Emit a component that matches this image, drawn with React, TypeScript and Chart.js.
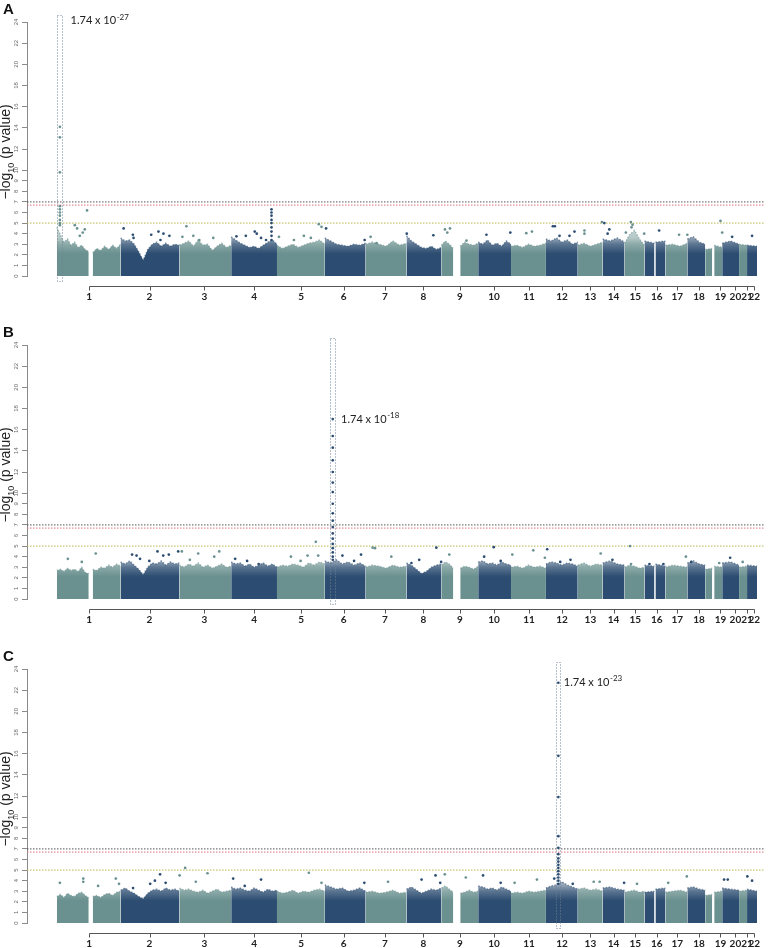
import React, { useEffect, useRef } from 'react';
import { Chart, registerables } from 'chart.js';

Chart.register(...registerables);

// ---------- shared data ----------
const chromLabels = ['1', '2', '3', '4', '5', '6', '7', '8', '9', '10', '11', '12', '13', '14', '15', '16', '17', '18', '19', '20', '21', '22'];
const chromLabelPos = [62.3, 123, 178, 228, 275.3, 318, 359.3, 398, 434.7, 469, 504, 537.3, 565.7, 589, 610.7, 632.3, 653, 674.7, 696.3, 711.3, 723, 730.3];

// SNP blocks along the genome axis (start, end, shade 0 = teal, 1 = dark blue)
const blockStart = [30, 66, 94, 153, 205, 251, 299, 340, 381, 416, 435, 453, 486, 521, 553, 578, 600, 620, 631, 641, 663, 681, 690, 698, 715, 723];
const blockEnd = [62, 94, 153, 205, 251, 299, 340, 381, 416, 428, 453, 486, 521, 553, 578, 600, 620, 630, 641, 663, 681, 688, 698, 715, 723, 733];
const blockShade = [0, 0, 1, 0, 1, 0, 1, 0, 1, 0, 0, 1, 0, 1, 0, 1, 0, 1, 1, 0, 1, 0, 0, 1, 0, 1];

const yTickValues = [0, 1, 2, 3, 4, 5, 6, 7, 8, 9, 10, 12, 14, 16, 18, 20, 22, 24];
const thresholdValues = [7, 6.7, 5];
const X_MIN = 0;
const X_MAX = 741;

// ---------- panel A ----------
const profileA: number[][] = [
  [4.6, 3.9, 3.2, 3.5, 2.9, 3.2, 2.7, 2.9, 2.5, 2.3],
  [2.2, 2.6, 2.4, 2.8, 2.5, 2.9, 2.6, 3.0],
  [3.6, 3.3, 3.4, 3.0, 2.3, 1.5, 2.5, 3.0, 3.2, 2.8, 3.1, 2.8, 3.0, 2.9],
  [2.9, 3.1, 3.3, 2.8, 3.4, 2.9, 3.0, 2.4, 2.8, 3.1, 2.7, 2.9],
  [3.7, 3.4, 3.1, 2.9, 2.7, 2.8, 2.6, 2.9, 3.2, 3.4, 3.0],
  [2.9, 2.6, 2.8, 3.0, 2.7, 2.9, 3.1, 3.2, 3.4, 3.0],
  [3.6, 3.3, 3.0, 2.9, 2.8, 3.0, 2.9, 3.1],
  [3.0, 3.2, 3.0, 2.8, 3.3, 2.9, 3.1],
  [3.8, 3.3, 3.0, 2.7, 2.6, 2.8, 2.5, 2.7],
  [2.9, 3.3, 3.0, 2.6],
  [2.8, 3.2, 3.0, 2.9, 3.1],
  [3.2, 3.0, 3.4, 2.9, 3.1, 2.8, 3.3, 3.0],
  [2.8, 2.9, 2.7, 3.0, 2.8, 2.9, 3.1],
  [3.5, 3.3, 3.6, 3.2, 3.4, 3.0, 3.2],
  [2.9, 3.1, 2.8, 3.0, 3.2],
  [3.5, 3.3, 3.6, 3.2],
  [3.1, 3.9, 4.3, 3.5, 2.9],
  [3.3, 3.1],
  [3.2, 3.3],
  [2.9, 3.0, 2.8, 3.1],
  [3.5, 3.7, 3.2, 3.0],
  [2.5, 2.6],
  [2.9, 2.7],
  [3.1, 3.3, 3.0],
  [3.0, 2.9],
  [2.9, 2.8],
];
const outliersA: [number, number][] = [
  [48, 4.8], [50.3, 4.5], [58, 4.4], [60.3, 6.2], [56, 4.1], [53, 3.8],
  [97, 4.5], [106.3, 3.9], [107, 3.6], [124.7, 3.9], [132, 4.2], [134, 3.4], [137, 4.0], [143, 3.8],
  [160, 4.7], [156, 3.7], [167, 3.8], [173, 3.4], [187, 3.6],
  [245.5, 6.3], [245.5, 6.0], [245.5, 5.7], [245.5, 5.3], [245.5, 5.0], [245.5, 4.6], [245.5, 4.2], [245.5, 3.8], [245.5, 3.4],
  [228.7, 4.2], [230.7, 4.0], [219.7, 3.8], [210.3, 3.75], [235, 3.6], [240, 3.4], [253, 3.7],
  [293, 4.9], [295.7, 4.65], [300.3, 4.5], [285, 3.6], [268, 3.4], [278, 3.8],
  [339, 3.4], [345, 3.7], [351, 3.1],
  [381.3, 4.0], [408, 3.85], [419.7, 4.4], [424.7, 4.5], [422, 4.1],
  [441.3, 3.35], [461.3, 3.9], [485.3, 4.1], [501.3, 4.05], [507, 4.2],
  [528, 4.7], [530, 4.7], [534.7, 3.8], [544.7, 3.8], [549.7, 4.2], [559.7, 4.3], [559.7, 4.0],
  [577.3, 5.1], [579.7, 5.0], [583, 4.0], [584.7, 4.4],
  [601.3, 4.1], [606.3, 5.1], [608, 4.85], [607, 4.6],
  [619.7, 4.0], [634.7, 4.3], [654.7, 3.9], [663, 3.9], [696.3, 5.2], [698, 4.1], [728, 3.8], [708, 3.7],
];
const peakXA = 33;
const peakYA = [24.5, 14.1, 13.1, 9.8, 6.6, 6.3, 6.0, 5.7, 5.3, 5.0, 4.8];

// ---------- panel B ----------
const profileB: number[][] = [
  [2.7, 2.8, 2.6, 2.9, 2.7, 2.8, 2.6, 3.0, 2.5, 2.4],
  [2.8, 2.7, 3.0, 2.9, 3.2, 3.0, 3.3, 3.1],
  [3.5, 3.3, 3.6, 3.2, 2.8, 2.3, 3.0, 3.4, 3.3, 3.6, 3.2, 3.5, 3.3, 3.4],
  [3.2, 3.0, 3.3, 3.1, 3.4, 3.0, 3.2, 2.9, 3.1, 3.3, 3.0, 3.1],
  [3.5, 3.3, 3.4, 3.1, 3.3, 3.0, 3.2, 3.4, 3.1, 3.3, 3.0],
  [3.0, 3.2, 3.1, 3.3, 3.2, 3.0, 3.4, 3.2, 3.5, 3.3],
  [3.6, 3.4, 3.7, 3.3, 3.5, 3.2, 3.4, 3.1],
  [3.0, 3.2, 3.1, 2.9, 3.2, 3.0, 3.1],
  [3.4, 3.2, 2.8, 2.4, 2.6, 3.0, 3.2, 3.3],
  [3.2, 3.5, 3.3, 2.9],
  [2.9, 3.1, 3.0, 2.8, 3.1],
  [3.5, 3.6, 3.3, 3.4, 3.2, 3.5, 3.3, 3.2],
  [3.0, 3.1, 2.9, 3.2, 3.0, 3.1, 2.9],
  [3.3, 3.5, 3.4, 3.2, 3.4, 3.3, 3.1],
  [3.2, 3.4, 3.1, 3.3, 3.2],
  [3.4, 3.6, 3.3, 3.2],
  [3.0, 3.2, 3.1, 2.9, 3.0],
  [3.2, 3.1],
  [3.3, 3.1],
  [3.0, 3.2, 3.1, 3.0],
  [3.4, 3.6, 3.3, 3.2],
  [2.8, 2.9],
  [3.1, 3.0],
  [3.4, 3.5, 3.2],
  [3.0, 3.1],
  [3.2, 3.1],
];
const outliersB: [number, number][] = [
  [41, 3.8], [69, 4.3], [55, 3.5],
  [105.5, 4.2], [110, 4.1], [131, 4.5], [136.8, 4.1], [142.4, 4.2], [151.8, 4.5], [155.5, 4.5], [122.8, 3.6], [113.5, 3.8],
  [171.9, 4.3], [193, 4.5], [188, 4.0], [163.5, 3.7],
  [209, 3.8], [221, 3.6], [232.6, 3.3],
  [265, 4.0], [281.7, 4.1], [290, 5.4], [292.4, 4.1], [274.7, 3.6],
  [316.7, 4.1], [335.4, 4.2], [347, 4.85], [349.4, 4.8], [365.8, 4.0], [328.4, 3.6],
  [386, 3.4], [393.8, 3.7], [411, 4.85], [424, 4.2], [415.8, 3.5],
  [459, 4.0], [468.6, 4.9], [475.6, 3.6], [487.3, 4.2],
  [508.3, 4.6], [522.3, 4.7], [520, 3.9], [535.4, 3.5], [545.7, 3.7],
  [576, 4.3], [587.8, 3.7], [605.5, 5.0], [606.5, 3.3],
  [625, 3.3], [639, 3.3], [661.6, 4.0], [667, 3.5], [695, 3.4], [706, 3.9], [718.6, 3.5],
];
const peakXB = 307;
const peakYB = [17.0, 15.4, 14.3, 13.1, 12.0, 11.0, 10.1, 9.0, 8.1, 7.4, 6.8, 6.2, 5.7, 5.2, 4.8, 4.4, 4.0, 3.7];

// ---------- panel C ----------
const profileC: number[][] = [
  [2.5, 2.7, 2.4, 2.8, 2.6, 2.5, 2.8, 2.9, 2.6, 2.4],
  [2.5, 2.6, 2.4, 2.7, 2.8, 2.6, 2.9, 3.0],
  [3.1, 3.3, 3.0, 2.8, 2.5, 2.3, 2.8, 3.1, 3.2, 3.0, 3.3, 3.1, 3.2, 3.0],
  [3.3, 3.1, 3.2, 3.0, 2.9, 3.1, 2.8, 3.0, 3.2, 2.9, 3.0, 3.1],
  [3.4, 3.2, 3.3, 3.1, 3.0, 3.3, 3.1, 2.9, 3.2, 3.0, 3.1],
  [3.0, 2.8, 2.9, 3.1, 2.8, 3.0, 2.9, 3.1, 3.2, 3.0],
  [3.6, 3.4, 3.2, 3.3, 3.0, 3.1, 3.3, 3.0],
  [2.9, 3.0, 2.8, 2.9, 3.1, 2.8, 2.9],
  [3.2, 3.4, 3.1, 2.8, 3.0, 3.2, 3.1, 3.3],
  [3.3, 3.5, 3.2, 2.9],
  [2.8, 2.9, 3.1, 2.9, 3.0],
  [3.5, 3.4, 3.2, 3.3, 3.1, 3.4, 3.2, 3.0],
  [2.8, 2.9, 2.8, 3.0, 2.9, 3.0, 3.1],
  [3.3, 3.5, 3.6, 3.9, 3.6, 3.4, 3.2],
  [3.2, 3.3, 3.1, 3.2, 3.0],
  [3.3, 3.4, 3.2, 3.1],
  [2.9, 3.0, 3.1, 2.9, 3.0],
  [2.9, 3.0],
  [3.2, 3.3],
  [2.9, 3.0, 3.1, 2.9],
  [3.3, 3.4, 3.2, 3.1],
  [2.6, 2.7],
  [2.9, 3.0],
  [3.3, 3.2, 3.1],
  [3.0, 3.1],
  [3.2, 3.0],
];
const outliersC: [number, number][] = [
  [33, 3.8], [56.5, 4.2], [56.5, 3.9],
  [71.4, 3.5], [89.2, 4.2], [92.4, 3.7],
  [133.6, 4.6], [128.4, 4.0], [139.2, 3.8], [153.2, 4.5], [158.8, 5.2], [106.5, 3.3], [123.7, 3.7],
  [169.5, 3.9], [181.2, 4.7], [207, 4.2], [235, 4.1], [218.6, 3.5],
  [283, 4.75], [295.7, 3.8], [338.7, 3.8], [362.5, 3.9], [396.2, 4.1], [410.2, 4.5], [419.5, 4.6], [414.9, 3.8],
  [440.6, 4.3], [457.9, 4.5], [475.6, 3.8], [489.6, 3.8], [512, 4.1],
  [529.4, 4.2], [548, 3.7], [569, 3.9], [575, 3.9], [599.5, 3.8], [612.5, 3.7], [643.8, 3.8], [662.5, 4.4],
  [699.9, 4.1], [723.3, 4.4], [728, 4.0], [703.6, 4.1],
];
const peakXC = 533.5;
const peakYC = [22.7, 15.8, 11.9, 8.2, 7.1, 6.5, 6.1, 5.8, 5.5, 5.2, 4.9, 4.6, 4.3, 4.0, 3.7];

// ---------- styling ----------
const SHADE_RGB = [[106, 145, 143], [44, 77, 113]];
const rgba = (c: number[], a: number) => `rgba(${c[0]},${c[1]},${c[2]},${a})`;

function shadeAt(x: number): number {
  let best = 0;
  let bd = Infinity;
  for (let i = 0; i < blockStart.length; i++) {
    const s = blockStart[i];
    const e = blockEnd[i];
    const d = x < s ? s - x : x > e ? x - e : 0;
    if (d < bd) { bd = d; best = i; }
  }
  return blockShade[best];
}

function buildFill(heights: number[], start: number, end: number) {
  const n = heights.length;
  const pts: { x: number; y: number }[] = [{ x: start, y: 0 }];
  heights.forEach((h, i) => pts.push({ x: start + (n === 1 ? 0 : (i * (end - start)) / (n - 1)), y: h }));
  pts.push({ x: end, y: 0 });
  return pts;
}

interface PanelProps {
  top: number;
  letter: string;
  profile: number[][];
  outliers: [number, number][];
  peakX: number;
  peakY: number[];
  rectX: [number, number];
  labelAt: [number, number];
  exponent: string;
}

function Panel(p: PanelProps) {
  const ref = useRef<HTMLCanvasElement>(null);
  useEffect(() => {
    if (!ref.current) return;
    const fillFor = (shade: number) => (ctx: any) => {
      const chart = ctx.chart;
      const c = SHADE_RGB[shade];
      if (!chart.chartArea) return rgba(c, 1);
      const y = chart.scales.y;
      const y0 = y.getPixelForValue(0);
      const y5 = y.getPixelForValue(5);
      const g = chart.ctx.createLinearGradient(0, y0, 0, y5);
      g.addColorStop(0, rgba(c, 1));
      g.addColorStop(0.42, rgba(c, 1));
      g.addColorStop(0.6, rgba(c, 0.78));
      g.addColorStop(0.72, rgba(c, 0.5));
      g.addColorStop(1, rgba(c, 0.3));
      return g;
    };

    const datasets: any[] = [];
    p.profile.forEach((heights, i) => {
      const edge = rgba(SHADE_RGB[blockShade[i]], 0.55);
      const lastSeg = heights.length;
      datasets.push({
        type: 'line',
        data: buildFill(heights, blockStart[i], blockEnd[i]),
        backgroundColor: fillFor(blockShade[i]),
        borderColor: edge,
        borderWidth: 1.5,
        borderDash: [1.5, 1.5],
        segment: {
          borderColor: (sc: any) => (sc.p0DataIndex === 0 || sc.p0DataIndex === lastSeg ? 'rgba(0,0,0,0)' : edge),
        },
        pointRadius: 0,
        fill: 'origin',
        tension: 0,
        order: 3,
      });
    });
    const thColors = ['#555555', '#e0707c', '#b8b84e'];
    thresholdValues.forEach((v, i) => {
      datasets.push({
        type: 'line',
        data: [{ x: X_MIN, y: v }, { x: X_MAX, y: v }],
        borderColor: thColors[i],
        borderWidth: 1,
        borderDash: [1.5, 1.5],
        pointRadius: 0,
        fill: false,
        order: 2,
      });
    });
    [0, 1].forEach((shade) => {
      const pts = p.outliers.filter(([x]) => shadeAt(x) === shade).map(([x, y]) => ({ x, y }));
      const peak = shadeAt(p.peakX) === shade ? p.peakY.map((y) => ({ x: p.peakX, y })) : [];
      datasets.push({
        type: 'scatter',
        data: pts.concat(peak),
        backgroundColor: rgba(SHADE_RGB[shade], 1),
        borderWidth: 0,
        pointRadius: 1.35,
        clip: false,
        order: 0,
      });
    });

    const decor = {
      id: 'decor',
      afterDraw(chart: any) {
        const { ctx, chartArea, scales } = chart;
        const xs = scales.x;
        const ys = scales.y;
        ctx.save();
        // x axis line from first to last chromosome label
        const ay = chartArea.bottom + 10.5;
        const x1 = Math.round(xs.getPixelForValue(chromLabelPos[0])) + 0.5;
        const x2 = Math.round(xs.getPixelForValue(chromLabelPos[chromLabelPos.length - 1])) + 0.5;
        ctx.strokeStyle = '#555';
        ctx.lineWidth = 1;
        ctx.setLineDash([]);
        ctx.beginPath();
        ctx.moveTo(x1, ay);
        ctx.lineTo(x2, ay);
        chromLabelPos.forEach((v) => {
          const px = Math.round(xs.getPixelForValue(v)) + 0.5;
          ctx.moveTo(px, ay);
          ctx.lineTo(px, ay + 4);
        });
        ctx.stroke();
        // dotted highlight box
        const rx1 = xs.getPixelForValue(p.rectX[0]);
        const rx2 = xs.getPixelForValue(p.rectX[1]);
        const ry1 = ys.getPixelForValue(24.7);
        const ry2 = ys.getPixelForValue(-0.4);
        ctx.strokeStyle = '#6f8396';
        ctx.setLineDash([1, 2]);
        ctx.strokeRect(Math.round(rx1) + 0.5, Math.round(ry1) + 0.5, Math.round(rx2 - rx1), Math.round(ry2 - ry1));
        // label
        const lx = xs.getPixelForValue(p.labelAt[0]);
        const ly = ys.getPixelForValue(p.labelAt[1]);
        ctx.setLineDash([]);
        ctx.fillStyle = '#222';
        ctx.textBaseline = 'middle';
        ctx.textAlign = 'left';
        ctx.font = '11px Lato, "Open Sans", sans-serif';
        const base = '1.74 x 10';
        ctx.fillText(base, lx, ly);
        const w = ctx.measureText(base).width;
        ctx.font = '8px Lato, "Open Sans", sans-serif';
        ctx.fillText(p.exponent, lx + w + 0.5, ly - 4);
        ctx.restore();
      },
    };

    const chart = new Chart(ref.current, {
      type: 'scatter',
      data: { datasets },
      options: {
        animation: false,
        responsive: false,
        devicePixelRatio: 1,
        events: [],
        layout: { padding: { top: 22, right: 1, left: 0, bottom: 0 } },
        plugins: { legend: { display: false }, tooltip: { enabled: false }, title: { display: false } },
        scales: {
          x: {
            type: 'linear',
            min: X_MIN,
            max: X_MAX,
            afterFit: (s: any) => { s.height = 40; },
            afterBuildTicks: (s: any) => { s.ticks = chromLabelPos.map((v) => ({ value: v })); },
            grid: { display: false, drawTicks: true, tickLength: 15 },
            border: { display: false },
            ticks: {
              autoSkip: false,
              maxRotation: 0,
              minRotation: 0,
              padding: 0,
              color: '#222',
              font: { family: 'Lato, "Open Sans", sans-serif', size: 10, weight: 'bold' },
              callback: (_v: any, i: number) => chromLabels[i],
            },
          },
          y: {
            type: 'linear',
            min: 0,
            max: 24,
            afterFit: (s: any) => { s.width = 27; },
            afterBuildTicks: (s: any) => { s.ticks = yTickValues.map((v) => ({ value: v })); },
            grid: { drawOnChartArea: false, drawTicks: true, tickLength: 5, color: '#8a8a8a' },
            border: { display: true, color: '#8a8a8a', width: 1 },
            ticks: {
              autoSkip: false,
              minRotation: 90,
              maxRotation: 90,
              crossAlign: 'center',
              padding: 2,
              color: '#666',
              font: { family: '"Liberation Sans", Arial, sans-serif', size: 6 },
            },
          },
        },
      } as any,
      plugins: [decor],
    });
    return () => chart.destroy();
  }, []);

  return (
    <div style={{ position: 'absolute', left: 0, top: p.top, width: 769, height: 316 }}>
      <canvas ref={ref} width={769} height={316} style={{ width: 769, height: 316, display: 'block' }} />
      <div
        style={{
          position: 'absolute', left: 3, top: 0, fontFamily: '"Liberation Sans", Arial, sans-serif',
          fontWeight: 'bold', fontSize: 15, lineHeight: '17px', color: '#111',
        }}
      >
        {p.letter}
      </div>
      <div
        style={{
          position: 'absolute', left: 8, top: 152, transform: 'translate(-50%, -50%) rotate(-90deg)',
          whiteSpace: 'nowrap', fontFamily: '"Liberation Sans", Arial, sans-serif', fontSize: 14, color: '#222',
          lineHeight: '16px',
        }}
      >
        −log<sub style={{ fontSize: 9 }}>10</sub> (p value)
      </div>
    </div>
  );
}

export default function App() {
  return (
    <div style={{ position: 'fixed', left: 0, top: 0, width: 769, height: 948, overflow: 'hidden', background: '#fff' }}>
      <Panel top={0} letter="A" profile={profileA} outliers={outliersA} peakX={peakXA} peakY={peakYA}
        rectX={[30.3, 35.3]} labelAt={[43.7, 24.1]} exponent="-27" />
      <Panel top={323} letter="B" profile={profileB} outliers={outliersB} peakX={peakXB} peakY={peakYB}
        rectX={[304.7, 309.7]} labelAt={[315.3, 17.0]} exponent="-18" />
      <Panel top={647} letter="C" profile={profileC} outliers={outliersC} peakX={peakXC} peakY={peakYC}
        rectX={[531.3, 535.7]} labelAt={[539, 22.7]} exponent="-23" />
    </div>
  );
}
